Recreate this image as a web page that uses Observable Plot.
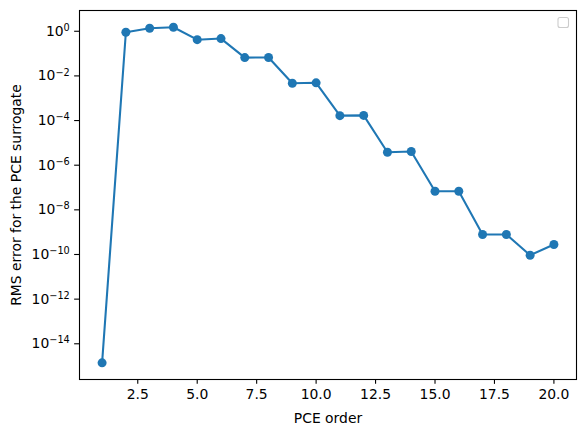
<!DOCTYPE html>
<html>
<head>
<meta charset="utf-8">
<script src="https://cdn.jsdelivr.net/npm/d3@7"></script>
<script src="https://cdn.jsdelivr.net/npm/@observablehq/plot@0.6"></script>
<style>
  html, body { margin: 0; padding: 0; background: white; }
</style>
</head>
<body>
<div id="chart"></div>
<script>
const orders = [1, 2, 3, 4, 5, 6, 7, 8, 9, 10, 11, 12, 13, 14, 15, 16, 17, 18, 19, 20];
const rmsError = [1.4e-15, 0.90, 1.36, 1.51, 0.42, 0.47, 0.066, 0.067, 0.0047, 0.0049,
                  1.66e-4, 1.7e-4, 3.8e-6, 4.1e-6, 6.8e-8, 6.8e-8, 7.9e-10, 7.9e-10, 9.3e-11, 2.8e-10];
const xTicks = [2.5, 5.0, 7.5, 10.0, 12.5, 15.0, 17.5, 20.0];
const yTicks = [1e0, 1e-2, 1e-4, 1e-6, 1e-8, 1e-10, 1e-12, 1e-14];
const xLabel = "PCE order";
const yLabel = "RMS error for the PCE surrogate";

const data = orders.map((o, i) => ({order: o, err: rmsError[i]}));
const color = "#1f77b4";

const chart = Plot.plot({
  width: 584,
  height: 432,
  marginLeft: 79,
  marginRight: 8,
  marginTop: 10,
  marginBottom: 53,
  style: {fontFamily: "DejaVu Sans", fontSize: "13.9px", color: "black", background: "white"},
  x: {domain: [0.05, 20.95]},
  y: {type: "log", domain: [Math.pow(10, -15.6), Math.pow(10, 0.93)]},
  marks: [
    Plot.axisX({ticks: xTicks, tickFormat: d => d.toFixed(1), tickSize: 4.86, tickPadding: 4.86,
      label: xLabel, labelAnchor: "center", labelArrow: "none", labelOffset: 43, strokeWidth: 1.1}),
    Plot.axisY({ticks: yTicks, tickFormat: d => "10^" + Math.round(Math.log10(d)), tickSize: 4.86, tickPadding: 4.86,
      label: yLabel, labelAnchor: "center", labelArrow: "none", labelOffset: 68, strokeWidth: 1.1}),
    Plot.line(data, {x: "order", y: "err", stroke: color, strokeWidth: 2.08}),
    Plot.dot(data, {x: "order", y: "err", r: 4.5, fill: color, stroke: "none"}),
    Plot.frame({stroke: "black", strokeWidth: 1.1})
  ]
});

// render exponents as superscripts
d3.select(chart).selectAll('g[aria-label="y-axis tick label"] text').each(function() {
  const t = this.textContent;
  const m = t.match(/^10\^(-?\d+)$/);
  if (!m) return;
  const exp = m[1].replace("-", "\u2212");
  const sel = d3.select(this);
  sel.text("10");
  sel.append("tspan").attr("dy", "-0.5em").attr("font-size", "0.7em").text(exp);
});

// empty legend frame (matplotlib draws one with no entries)
d3.select(chart).append("rect")
  .attr("x", 558).attr("y", 17.5).attr("width", 10.5).attr("height", 10)
  .attr("rx", 2).attr("fill", "white").attr("stroke", "#cccccc").attr("stroke-width", 1.1);

document.getElementById("chart").appendChild(chart);
</script>
</body>
</html>
